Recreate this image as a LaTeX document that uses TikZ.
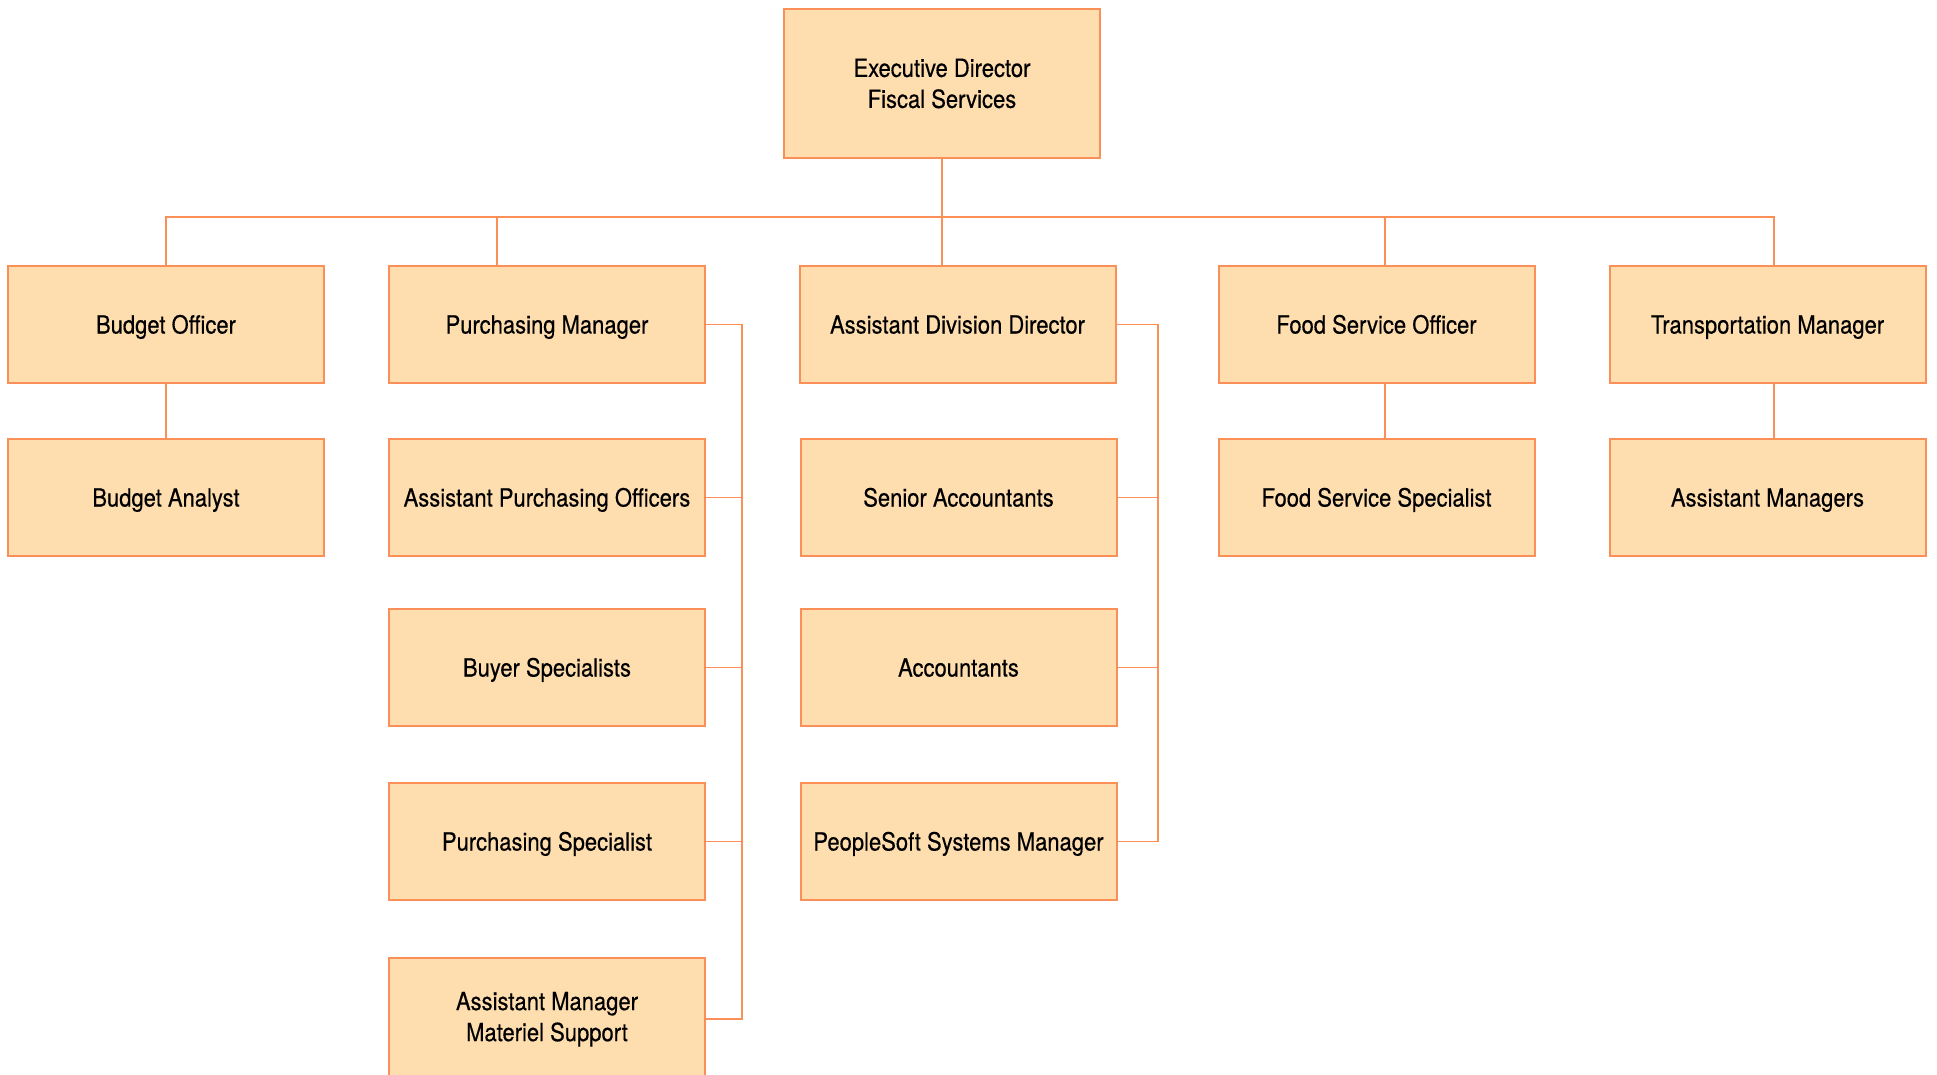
\documentclass[tikz,border=0pt]{standalone}
\usepackage{fontspec}
\setmainfont{TeX Gyre Heros}[FakeStretch=0.88, FakeBold=0.4]
\usetikzlibrary{positioning}

\begin{document}
\begin{tikzpicture}[
    x=1pt, y=-1pt,
    font=\fontsize{25}{31}\selectfont,
    role/.style={draw=boxLine, fill=boxFill, line width=2pt, minimum width=316pt, minimum height=117pt, align=center, inner sep=0pt, text height=20pt, text depth=2pt},
    twoline/.style={text height={}, text depth={}},
    link/.style={draw=boxLine, line width=1.8pt}
]

    % Parameters
    \def\colA{166}
    \def\colB{547}
    \def\colC{957.5}
    \def\colD{1376.5}
    \def\colE{1767.5}
    \def\rowA{324.5}
    \def\rowB{497.5}
    \def\rowC{667.5}
    \def\rowD{841.5}

    % Define colors
    \definecolor{boxFill}{HTML}{FEDDAE}
    \definecolor{boxLine}{HTML}{FA8F58}

    \useasboundingbox (0,0) rectangle (1937,1075);

    % 1. Top
    \node[role, twoline, minimum height=149pt] (top) at (942,83.5) {Executive Director\\Fiscal Services};

    % 2. First row
    \node[role] (bo)  at (\colA,\rowA) {Budget Officer};
    \node[role] (pm)  at (\colB,\rowA) {Purchasing Manager};
    \node[role] (add) at (\colC,\rowA) {Assistant Division Director};
    \node[role] (fs)  at (\colD,\rowA) {Food Service Officer};
    \node[role] (tm)  at (\colE,\rowA) {Transportation Manager};

    % 3. Staff
    \node[role] (ba)  at (\colA,\rowB) {Budget Analyst};
    \node[role] (fss) at (\colD,\rowB) {Food Service Specialist};
    \node[role] (am)  at (\colE,\rowB) {Assistant Managers};

    \node[role] (apo) at (\colB,\rowB) {Assistant Purchasing Officers};
    \node[role] (bs)  at (\colB,\rowC) {Buyer Specialists};
    \node[role] (ps)  at (\colB,\rowD) {Purchasing Specialist};
    % runs off the bottom edge
    \node[role, twoline, minimum height=130pt, anchor=north, text depth=13pt] (ams) at (\colB,957) {Assistant Manager\\Materiel Support};

    \node[role] (sa)  at (\colC+1,\rowB) {Senior Accountants};
    \node[role] (acc) at (\colC+1,\rowC) {Accountants};
    \node[role] (psm) at (\colC+1,\rowD) {PeopleSoft Systems Manager};

    % 4. Bus to first row
    \coordinate (bus) at (0,217);
    \coordinate (pmIn) at ([xshift=-50pt]pm.north);
    \coordinate (addIn) at (add.north -| top.south);
    \coordinate (fsIn) at ([xshift=8.5pt]fs.north);
    \coordinate (tmIn) at ([xshift=6.5pt]tm.north);

    \draw[link] (bo.north) |- (tmIn |- bus) -- (tmIn);
    \draw[link] (top.south) -- (addIn);
    \foreach \c in {pmIn, fsIn}
        \draw[link] (\c) -- (\c |- bus);

    % 5. Straight lines down
    \draw[link] (bo.south) -- (ba.north);
    \draw[link] (fsIn |- fs.south) -- (fsIn |- fss.north);
    \draw[link] (tmIn |- tm.south) -- (tmIn |- am.north);

    % 6. Side brackets
    \coordinate (pmBus) at (742,0);
    \coordinate (amsIn) at (\colB+158,1019);
    \draw[link] (pm.east) -- (pm.east -| pmBus) -- (amsIn -| pmBus) -- (amsIn);
    \foreach \n in {apo, bs, ps}
        \draw[link] (\n.east) -- (\n.east -| pmBus);

    \coordinate (addBus) at (1158,0);
    \draw[link] (add.east) -- (add.east -| addBus) -- (psm.east -| addBus) -- (psm.east);
    \foreach \n in {sa, acc}
        \draw[link] (\n.east) -- (\n.east -| addBus);

\end{tikzpicture}
\end{document}
